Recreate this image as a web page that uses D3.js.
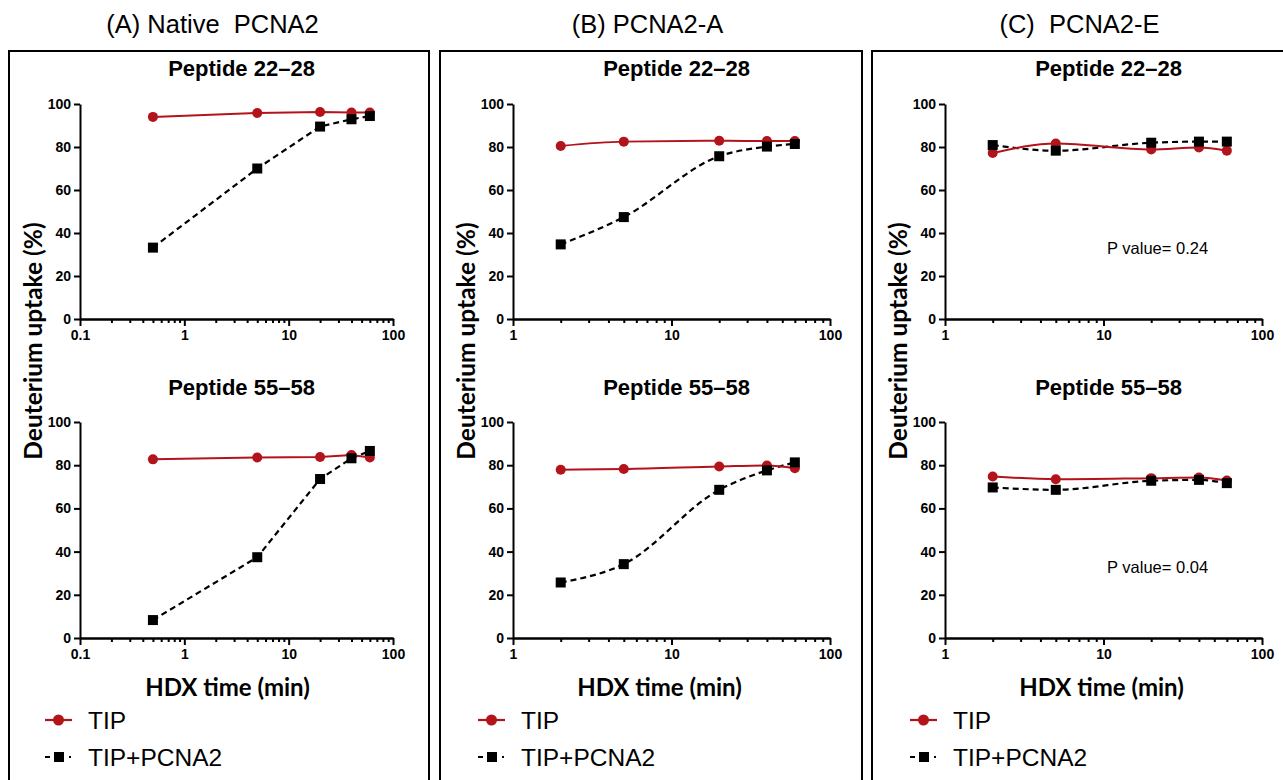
<!DOCTYPE html>
<html>
<head>
<meta charset="utf-8">
<script src="https://cdn.jsdelivr.net/npm/d3@7"></script>
<style>
  body { margin: 0; background: #fff; }
  svg { display: block; }
  .domain, .tick line { stroke: #000; stroke-width: 2; }
</style>
</head>
<body>
<div id="chart"></div>
<script>
// panel headings and subplot titles
const panelTitles = ["(A) Native  PCNA2", "(B) PCNA2-A", "(C)  PCNA2-E"];
const peptideTitles = ["Peptide 22\u201328", "Peptide 55\u201358"];
const seriesNames = ["TIP", "TIP+PCNA2"];

// HDX time points (min)
const timesA = [0.5, 5, 20, 40, 60];
const timesBC = [2, 5, 20, 40, 60];

// deuterium uptake (%)
const tipA22 = [94.0, 95.8, 96.3, 96.0, 96.0];
const pcnaA22 = [33.2, 70.0, 89.5, 92.9, 94.4];
const tipA55 = [82.7, 83.6, 83.8, 84.7, 83.6];
const pcnaA55 = [8.3, 37.4, 73.6, 83.2, 86.6];

const tipB22 = [80.5, 82.5, 82.9, 82.8, 82.8];
const pcnaB22 = [34.7, 47.4, 75.7, 80.2, 81.4];
const tipB55 = [77.9, 78.2, 79.4, 79.9, 78.6];
const pcnaB55 = [25.7, 34.2, 68.6, 77.6, 81.3];

const tipC22 = [77.2, 81.6, 78.8, 79.8, 78.3];
const pcnaC22 = [80.9, 78.3, 82.0, 82.5, 82.5];
const tipC55 = [74.8, 73.5, 74.0, 74.3, 72.9];
const pcnaC55 = [69.7, 68.6, 72.8, 73.2, 71.7];

const pValuesC = ["P value= 0.24", "P value= 0.04"];

const yTicks = [0, 20, 40, 60, 80, 100];
const xMajorA = [0.1, 1, 10, 100];
const xMajorBC = [1, 10, 100];

const red = "#b3131b";
const arial = "'Liberation Sans', Arial, sans-serif";
const calibri = "Lato, 'Open Sans', sans-serif";
const width = 1283, height = 780;

const svg = d3.select("#chart").append("svg")
  .attr("width", width)
  .attr("height", height);

// layout of the three boxes
const panels = [
  { title: panelTitles[0], box: [9, 429], axisX: 80, xEnd: 393, domain: [0.1, 100], majors: xMajorA, times: timesA,
    data: [[tipA22, pcnaA22], [tipA55, pcnaA55]], p: null, curve: d3.curveLinear, labDx: -9 },
  { title: panelTitles[1], box: [440, 862], axisX: 513, xEnd: 830, domain: [1, 100], majors: xMajorBC, times: timesBC,
    data: [[tipB22, pcnaB22], [tipB55, pcnaB55]], p: null, curve: d3.curveMonotoneX, labDx: -12 },
  { title: panelTitles[2], box: [872, 1290], axisX: 945, xEnd: 1262, domain: [1, 100], majors: xMajorBC, times: timesBC,
    data: [[tipC22, pcnaC22], [tipC55, pcnaC55]], p: pValuesC, curve: d3.curveMonotoneX, labDx: -2 }
];

const rows = [
  { top: 104, bottom: 319, titleY: 76 },
  { top: 422, bottom: 638, titleY: 395 }
];

function minorTicks(domain) {
  let out = [];
  for (let dec = domain[0]; dec < domain[1]; dec *= 10) {
    for (let k = 2; k <= 9; k++) out.push(+(dec * k).toPrecision(3));
  }
  return out;
}

function styleTicks(sel) {
  sel.selectAll("text")
    .style("font-family", arial)
    .style("font-weight", "bold")
    .style("font-size", "14px")
    .attr("fill", "#000");
}

panels.forEach(function(pn) {
  const g = svg.append("g");
  const mid = pn.axisX + (pn.xEnd - pn.axisX) / 2;

  // box
  g.append("path")
    .attr("d", `M${pn.box[0]},${height + 5}V51H${pn.box[1]}V${height + 5}`)
    .attr("fill", "none")
    .attr("stroke", "#000")
    .attr("stroke-width", 2);

  g.append("text")
    .attr("x", mid - 24)
    .attr("y", 33)
    .attr("text-anchor", "middle")
    .style("white-space", "pre")
    .style("font-family", arial)
    .style("font-size", "25.5px")
    .text(pn.title);

  const x = d3.scaleLog().domain(pn.domain).range([pn.axisX, pn.xEnd]);

  rows.forEach(function(row, ri) {
    const y = d3.scaleLinear().domain([0, 100]).range([row.bottom, row.top]);

    g.append("text")
      .attr("x", mid + 5)
      .attr("y", row.titleY)
      .attr("text-anchor", "middle")
      .style("font-family", arial)
      .style("font-weight", "bold")
      .style("font-size", "22px")
      .text(peptideTitles[ri]);

    // y axis
    g.append("g")
      .attr("transform", `translate(${pn.axisX},0)`)
      .call(d3.axisLeft(y).tickValues(yTicks).tickSize(6).tickSizeOuter(0).tickPadding(3))
      .call(styleTicks);

    // x axis, minor ticks then majors with labels
    g.append("g")
      .attr("transform", `translate(0,${row.bottom})`)
      .call(d3.axisBottom(x).tickValues(minorTicks(pn.domain)).tickSize(4).tickSizeOuter(0).tickFormat(""));
    g.append("g")
      .attr("transform", `translate(0,${row.bottom})`)
      .call(d3.axisBottom(x).tickValues(pn.majors).tickSize(7).tickSizeOuter(0).tickPadding(4)
        .tickFormat(d => String(d)))
      .call(styleTicks);

    const line = d3.line()
      .x((d, i) => x(pn.times[i]))
      .y(d => y(d))
      .curve(pn.curve);

    const tip = pn.data[ri][0], pcna = pn.data[ri][1];

    // TIP + PCNA2: dashed black, squares
    g.append("path")
      .datum(pcna)
      .attr("d", line)
      .attr("fill", "none")
      .attr("stroke", "#000")
      .attr("stroke-width", 2.2)
      .attr("stroke-dasharray", "6,4");

    // TIP: solid red, circles
    g.append("path")
      .datum(tip)
      .attr("d", line)
      .attr("fill", "none")
      .attr("stroke", red)
      .attr("stroke-width", 2);

    g.selectAll(null)
      .data(tip)
      .enter()
      .append("circle")
      .attr("cx", (d, i) => x(pn.times[i]))
      .attr("cy", d => y(d))
      .attr("r", 5)
      .attr("fill", red);

    g.selectAll(null)
      .data(pcna)
      .enter()
      .append("rect")
      .attr("x", (d, i) => x(pn.times[i]) - 5)
      .attr("y", d => y(d) - 5)
      .attr("width", 10)
      .attr("height", 10)
      .attr("fill", "#000");

    if (pn.p) {
      g.append("text")
        .attr("x", pn.axisX + 162)
        .attr("y", y(0) - 65)
        .style("font-family", arial)
        .style("font-size", "16.5px")
        .text(pn.p[ri]);
    }
  });

  // y axis title across both rows
  g.append("text")
    .attr("transform", `translate(${pn.axisX - 38},341) rotate(-90)`)
    .attr("text-anchor", "middle")
    .style("font-family", calibri)
    .style("font-weight", "bold")
    .style("font-size", "24.5px")
    .text("Deuterium uptake (%)");

  // x axis title
  g.append("text")
    .attr("x", mid + pn.labDx)
    .attr("y", 696)
    .attr("text-anchor", "middle")
    .style("font-family", calibri)
    .style("font-weight", "bold")
    .style("font-size", "24px")
    .text("HDX time (min)");

  // legend
  const lx = pn.axisX - 35;
  const legend = [
    { y: 720, color: red, dash: null, shape: "circle" },
    { y: 757, color: "#000", dash: "5,4,9,6,2,20", shape: "square" }
  ];
  legend.forEach(function(it, i) {
    g.append("line")
      .attr("x1", lx).attr("x2", lx + 27)
      .attr("y1", it.y).attr("y2", it.y)
      .attr("stroke", it.color)
      .attr("stroke-width", 2.2)
      .attr("stroke-dasharray", it.dash);
    if (it.shape === "circle") {
      g.append("circle").attr("cx", lx + 13.5).attr("cy", it.y).attr("r", 5.5).attr("fill", it.color);
    } else {
      g.append("rect").attr("x", lx + 9).attr("y", it.y - 5).attr("width", 10).attr("height", 10).attr("fill", it.color);
    }
    g.append("text")
      .attr("x", pn.axisX + 8)
      .attr("y", it.y + 8.5)
      .style("font-family", arial)
      .style("font-size", "24.5px")
      .text(seriesNames[i]);
  });
});
</script>
</body>
</html>
